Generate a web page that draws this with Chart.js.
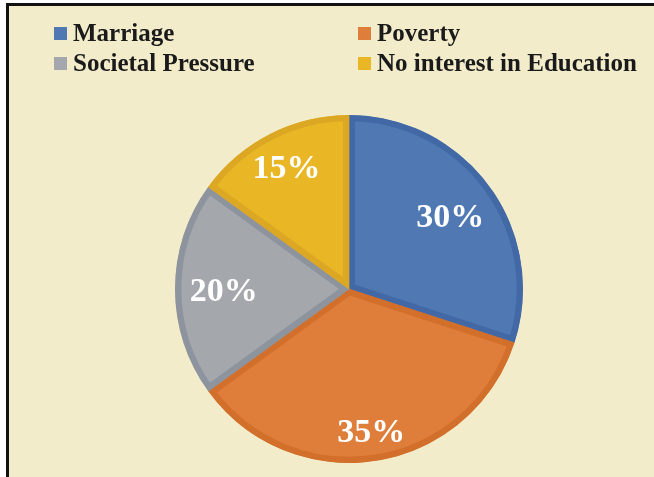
<!DOCTYPE html>
<html>
<head>
<meta charset="utf-8">
<script src="https://cdn.jsdelivr.net/npm/chart.js@4.4.1/dist/chart.umd.min.js"></script>
<style>
    html, body { margin: 0; padding: 0; background: #ffffff; }
    #frame {
        position: absolute;
        left: 6px;
        top: 3px;
        width: 648px;
        height: 474px;
        border-left: 3px solid #111111;
        border-top: 3px solid #111111;
        background: #f2ecca;
    }
    #chart { position: absolute; left: 0; top: 0; }
    #legend {
        position: absolute;
        left: 54px;
        top: 18px;
        display: grid;
        grid-template-columns: 304px auto;
        grid-auto-rows: 30px;
        font-family: "Liberation Serif", "Times New Roman", serif;
        font-weight: bold;
        font-size: 25px;
        color: #1a1a1a;
    }
    .item { display: flex; align-items: center; white-space: nowrap; }
    .swatch { width: 13px; height: 13px; margin-right: 6px; flex: none; }
</style>
</head>
<body>
<div id="frame"></div>
<canvas id="chart" width="654" height="477"></canvas>
<div id="legend"></div>

<script>
const reasons = ['Marriage', 'Poverty', 'Societal Pressure', 'No interest in Education'];
const shares = [30, 35, 20, 15];

const fillColors = ['#5079b3', '#df7e3a', '#a4a8ad', '#e9b726'];
const edgeColors = ['#4269a6', '#d26f2b', '#8d949d', '#dca824'];

// where each percentage sits along its slice, as a fraction of the radius
const labelRadius = [0.72, 0.82, 0.72, 0.79];

// white percentage text on top of each slice
const sliceLabels = {
    id: 'sliceLabels',
    afterDatasetsDraw(chart) {
        const ctx = chart.ctx;
        const meta = chart.getDatasetMeta(0);
        ctx.save();
        ctx.fillStyle = '#ffffff';
        ctx.font = 'bold 34px "Liberation Serif", "Times New Roman", serif';
        ctx.textAlign = 'center';
        ctx.textBaseline = 'middle';
        meta.data.forEach((arc, i) => {
            const { x, y, startAngle, endAngle, outerRadius } = arc.getProps(['x', 'y', 'startAngle', 'endAngle', 'outerRadius'], true);
            const mid = (startAngle + endAngle) / 2;
            const r = outerRadius * labelRadius[i];
            ctx.fillText(shares[i] + '%', x + Math.cos(mid) * r, y + Math.sin(mid) * r + 3);
        });
        ctx.restore();
    }
};

const chart = new Chart(document.getElementById('chart'), {
    type: 'pie',
    data: {
        labels: reasons,
        datasets: [{
            data: shares,
            backgroundColor: fillColors,
            borderColor: edgeColors,
            borderWidth: 6,
            borderAlign: 'inner',
        }],
    },
    options: {
        responsive: false,
        animation: false,
        layout: {
            padding: { left: 175, right: 131, top: 115, bottom: 14 },
        },
        plugins: {
            legend: { display: false },
            tooltip: { enabled: false },
        },
    },
    plugins: [sliceLabels],
});

// two-column legend built from the chart's own labels
const legendEl = document.getElementById('legend');
chart.options.plugins.legend.labels.generateLabels(chart).forEach(item => {
    const row = document.createElement('div');
    row.className = 'item';
    const swatch = document.createElement('span');
    swatch.className = 'swatch';
    swatch.style.background = item.fillStyle;
    const text = document.createElement('span');
    text.textContent = item.text;
    row.appendChild(swatch);
    row.appendChild(text);
    legendEl.appendChild(row);
});
</script>
</body>
</html>
